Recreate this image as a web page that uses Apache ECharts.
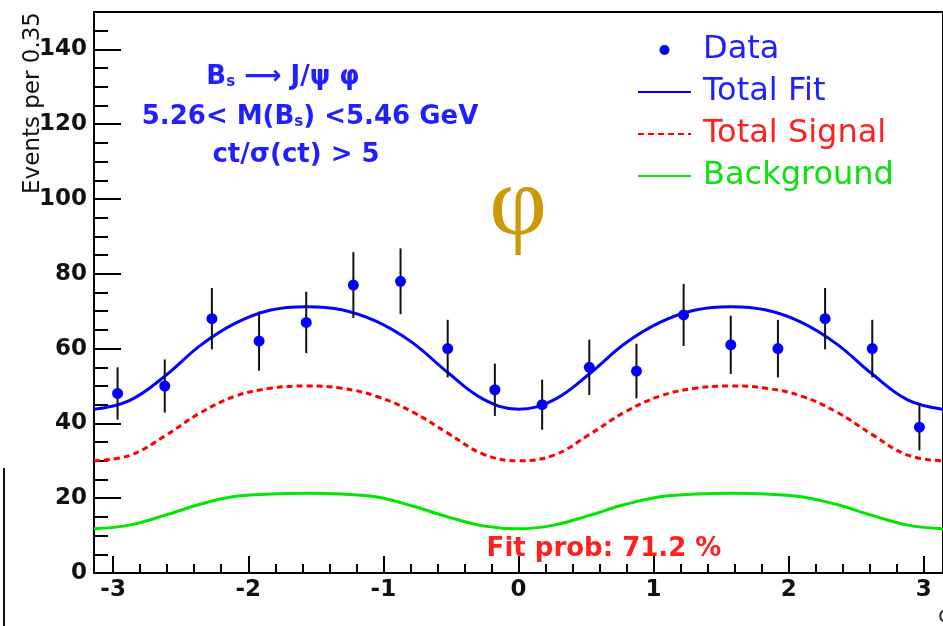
<!DOCTYPE html>
<html>
<head>
<meta charset="utf-8">
<script src="https://cdn.jsdelivr.net/npm/echarts@6/dist/echarts.min.js"></script>
<style>
  html, body { margin: 0; padding: 0; background: #ffffff; }
  #chart { width: 943px; height: 626px; }
</style>
</head>
<body>
<div id="chart"></div>
<script>
// Angular distribution of Bs -> J/psi phi candidates, bins of 0.35 rad
const binCenters = [-2.967, -2.618, -2.269, -1.920, -1.571, -1.222, -0.873, -0.524, -0.175,
                     0.175,  0.524,  0.873,  1.222,  1.571,  1.920,  2.269,  2.618,  2.967];
const dataCounts = [48, 50, 68, 62, 67, 77, 78, 60, 49, 45, 55, 54, 69, 61, 60, 68, 60, 39];
const dataErrors = [7.0, 7.1, 8.2, 7.9, 8.2, 8.8, 8.8, 7.7, 7.0, 6.7, 7.4, 7.3, 8.3, 7.8, 7.7, 8.2, 7.7, 6.2];

// Fit projections sampled along phi
const curvePhi = [-3.1416, -2.8798, -2.6180, -2.3562, -2.0944, -1.8326, -1.5708, -1.3090, -1.0472,
                  -0.7854, -0.5236, -0.2618, 0, 0.2618, 0.5236, 0.7854, 1.0472, 1.3090, 1.5708,
                  1.8326, 2.0944, 2.3562, 2.6180, 2.8798, 3.1416];
const totalFit = [43.8, 46.1, 52.6, 60.8, 66.8, 70.3, 71.2, 70.4, 67.2, 61.6, 53.6, 46.5, 43.8,
                  46.3, 53.2, 61.3, 67.0, 70.3, 71.2, 70.3, 67.0, 61.2, 53.2, 46.3, 43.8];
const totalSignal = [30.0, 31.4, 36.6, 42.8, 47.3, 49.4, 50.0, 49.4, 47.2, 43.1, 37.4, 31.8, 30.0,
                     31.5, 37.0, 43.0, 47.3, 49.4, 50.0, 49.4, 47.3, 43.0, 37.0, 31.5, 30.0];
const background = [11.8, 12.8, 15.4, 18.4, 20.5, 21.1, 21.3, 21.1, 20.3, 17.9, 15.0, 12.6, 11.8,
                    12.8, 15.4, 18.3, 20.4, 21.1, 21.3, 21.1, 20.4, 18.3, 15.4, 12.8, 11.8];

// Axis ticks
const xMajorTicks = [-3, -2, -1, 0, 1, 2, 3];
const yMajorTicks = [0, 20, 40, 60, 80, 100, 120, 140];

const xMinorTicks = [];
for (let i = -14; i <= 14; i++) { if (i % 5 !== 0) xMinorTicks.push(i / 5); }
const yMinorTicks = [];
for (let v = 5; v < 150; v += 5) { if (v % 20 !== 0) yMinorTicks.push(v); }

const BLUE = '#0000ff';
const RED = '#ff0000';
const GREEN = '#00e600';
const SANS = 'DejaVu Sans';

const zip = (xs, ys) => xs.map((x, i) => [x, ys[i]]);

const chart = echarts.init(document.getElementById('chart'), null, { renderer: 'canvas' });

const tickLine = { color: '#000', width: 2 };
const hiddenMarker = { opacity: 0 };

chart.setOption({
  backgroundColor: '#ffffff',
  animation: false,
  grid: {
    left: 94, top: 12, width: 859, height: 561,
    show: true, borderColor: '#000', borderWidth: 2, backgroundColor: 'transparent'
  },
  xAxis: [
    {
      type: 'value', min: -Math.PI, max: Math.PI, position: 'bottom',
      axisLine: { show: true, onZero: false, lineStyle: tickLine },
      axisTick: { show: true, inside: true, length: 17, customValues: xMajorTicks, lineStyle: tickLine },
      axisLabel: {
        customValues: xMajorTicks, margin: 6, color: '#111',
        fontFamily: SANS, fontWeight: 'bold', fontSize: 23
      },
      splitLine: { show: false }
    },
    {
      type: 'value', min: -Math.PI, max: Math.PI, position: 'bottom', offset: 0,
      axisLine: { show: false, onZero: false },
      axisTick: { show: true, inside: true, length: 9, customValues: xMinorTicks, lineStyle: tickLine },
      axisLabel: { show: false },
      splitLine: { show: false }
    }
  ],
  yAxis: [
    {
      type: 'value', min: 0, max: 150, position: 'left',
      axisLine: { show: true, onZero: false, lineStyle: tickLine },
      axisTick: { show: true, inside: true, length: 27, customValues: yMajorTicks, lineStyle: tickLine },
      axisLabel: {
        customValues: yMajorTicks, margin: 7, color: '#111',
        fontFamily: SANS, fontWeight: 'bold', fontSize: 23
      },
      splitLine: { show: false }
    },
    {
      type: 'value', min: 0, max: 150, position: 'left', offset: 0,
      axisLine: { show: false, onZero: false },
      axisTick: { show: true, inside: true, length: 14, customValues: yMinorTicks, lineStyle: tickLine },
      axisLabel: { show: false },
      splitLine: { show: false }
    }
  ],
  legend: {
    orient: 'vertical', left: 632, top: 29,
    itemWidth: 53, itemHeight: 10, itemGap: 10,
    selectedMode: false,
    textStyle: { fontFamily: SANS, fontSize: 32, lineHeight: 30, padding: [0, 0, 0, 7] },
    data: [
      { name: 'Data', icon: 'circle', textStyle: { color: '#1f1fff' } },
      { name: 'Total Fit', itemStyle: hiddenMarker, textStyle: { color: '#1f1fff' } },
      { name: 'Total Signal', itemStyle: hiddenMarker, textStyle: { color: '#ff1f1f' } },
      { name: 'Background', itemStyle: hiddenMarker, textStyle: { color: '#10e010' } }
    ]
  },
  series: [
    {
      name: 'Background', type: 'line', smooth: 0.4, symbol: 'none',
      data: zip(curvePhi, background),
      lineStyle: { color: GREEN, width: 3 }, itemStyle: { color: GREEN }, z: 2
    },
    {
      name: 'Total Signal', type: 'line', smooth: 0.4, symbol: 'none',
      data: zip(curvePhi, totalSignal),
      lineStyle: { color: RED, width: 3, type: [6, 4] }, itemStyle: { color: RED }, z: 2
    },
    {
      name: 'Total Fit', type: 'line', smooth: 0.4, symbol: 'none',
      data: zip(curvePhi, totalFit),
      lineStyle: { color: BLUE, width: 3 }, itemStyle: { color: BLUE }, z: 3
    },
    {
      name: 'errors', type: 'custom',
      data: binCenters.map((x, i) => [x, dataCounts[i], dataErrors[i]]),
      encode: { x: 0, y: 1 },
      renderItem: function (params, api) {
        const x = api.value(0), y = api.value(1), e = api.value(2);
        const top = api.coord([x, y + e]);
        const bot = api.coord([x, y - e]);
        return {
          type: 'line',
          shape: { x1: top[0], y1: top[1], x2: bot[0], y2: bot[1] },
          style: { stroke: '#111', lineWidth: 2 }
        };
      },
      z: 4
    },
    {
      name: 'Data', type: 'scatter', symbol: 'circle', symbolSize: 11,
      data: zip(binCenters, dataCounts),
      itemStyle: { color: BLUE, opacity: 1 }, z: 5
    }
  ],
  graphic: [
    {
      type: 'text', x: 33, y: 12, rotation: Math.PI / 2,
      style: {
        text: 'Events per 0.35', fill: '#111', font: '23px "DejaVu Sans"',
        align: 'right', verticalAlign: 'middle'
      }
    },
    {
      type: 'text', x: 283, y: 77,
      style: {
        text: 'B{sub|s} \u27f6 J/\u03c8 \u03c6',
        fill: '#1f1fff', font: 'bold 26px "DejaVu Sans"',
        align: 'center', verticalAlign: 'middle',
        rich: { sub: { font: 'bold 15px "DejaVu Sans"', fill: '#1f1fff', verticalAlign: 'bottom', lineHeight: 24 } }
      }
    },
    {
      type: 'text', x: 310, y: 117,
      style: {
        text: '5.26< M(B{sub|s}) <5.46 GeV',
        fill: '#1f1fff', font: 'bold 26px "DejaVu Sans"',
        align: 'center', verticalAlign: 'middle',
        rich: { sub: { font: 'bold 15px "DejaVu Sans"', fill: '#1f1fff', verticalAlign: 'bottom', lineHeight: 24 } }
      }
    },
    {
      type: 'text', x: 296, y: 155,
      style: {
        text: 'ct/\u03c3(ct) > 5',
        fill: '#1f1fff', font: 'bold 26px "DejaVu Sans"',
        align: 'center', verticalAlign: 'middle'
      }
    },
    {
      type: 'text', x: 518, y: 208,
      style: {
        text: '\u03c6', fill: '#cc9a06', font: '100px "Liberation Serif"',
        align: 'center', verticalAlign: 'middle'
      }
    },
    {
      type: 'text', x: 604, y: 549,
      style: {
        text: 'Fit prob: 71.2 %', fill: '#ff1f1f', font: 'bold 26px "DejaVu Sans"',
        align: 'center', verticalAlign: 'middle'
      }
    },
    {
      type: 'text', x: 938, y: 616,
      style: {
        text: '\u03c6', fill: '#333', font: '22px "DejaVu Sans"',
        align: 'left', verticalAlign: 'middle'
      }
    },
    {
      type: 'line', shape: { x1: 4, y1: 468, x2: 4, y2: 626 },
      style: { stroke: '#111', lineWidth: 2 }
    }
  ]
});
</script>
</body>
</html>
